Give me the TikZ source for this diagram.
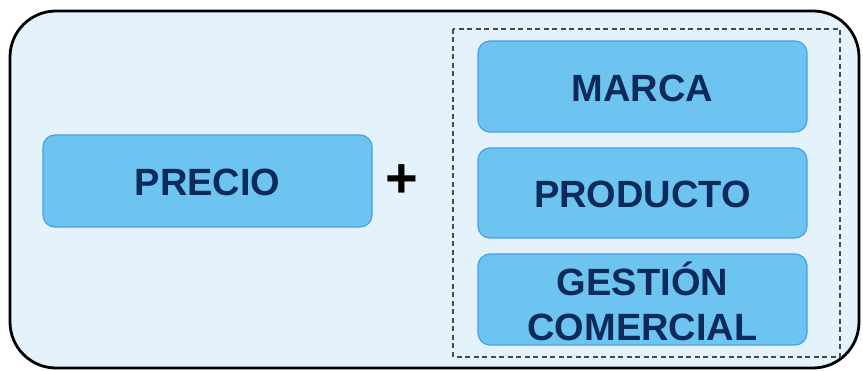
\documentclass[tikz,border=0pt]{standalone}
\usepackage{fontspec}
\setmainfont{Liberation Sans}
\definecolor{panelbg}{HTML}{E4F2FB}
\definecolor{itemfill}{HTML}{6EC4F0}
\definecolor{itemedge}{HTML}{4A9DE8}
\definecolor{itemtext}{HTML}{0C2A5A}
\definecolor{groupedge}{HTML}{4A4A4A}
\begin{document}
\begin{tikzpicture}[x=1pt,y=-1pt,
  item/.style={draw=itemedge,fill=itemfill,line width=1.2pt,rounded corners=12pt},
  itemlabel/.style={text=itemtext,font=\fontsize{38}{45}\selectfont\bfseries,align=center,inner sep=0pt}]
  \useasboundingbox (0,0) rectangle (863,371);
  % outer panel
  \draw[fill=panelbg,line width=2.8pt,rounded corners=46pt] (10,11) rectangle (859,368);
  % dashed group around the three items on the right
  \draw[groupedge,line width=1.6pt,dash pattern=on 5pt off 3.5pt] (453,29) rectangle (840,357);
  % left item
  \draw[item] (43,135) rectangle (372,227);
  \node[itemlabel] (precio) at (207.5,182) {PRECIO};
  % plus sign
  \node[inner sep=0pt,font=\fontsize{56}{56}\selectfont\bfseries] (plus) at (402,181) {+};
  % right items
  \draw[item] (478,41) rectangle (807,132);
  \node[itemlabel] (marca) at (642.5,88.5) {MARCA};
  \draw[item] (478,148) rectangle (807,238);
  \node[itemlabel] (producto) at (642.5,194) {PRODUCTO};
  \draw[item] (478,254) rectangle (807,345);
  \node[itemlabel] (gestion) at (642.5,301) {GESTIÓN\\COMERCIAL};
\end{tikzpicture}
\end{document}
